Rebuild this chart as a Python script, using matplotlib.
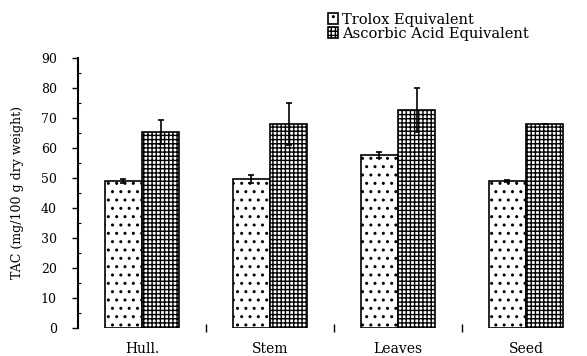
import matplotlib.pyplot as plt
import numpy as np
from matplotlib.ticker import MultipleLocator, FixedLocator

plt.rcParams["font.family"] = "DejaVu Serif"
plt.rcParams["hatch.linewidth"] = 1.0

# Capacidad antioxidante total por parte de la planta
partes = ["Hull.", "Stem", "Leaves", "Seed"]
trolox = [49.0, 49.7, 57.7, 49.0]
trolox_err = [0.7, 1.3, 1.0, 0.4]
ascorbico = [65.3, 68.0, 72.7, 68.0]
ascorbico_err = [4.0, 7.0, 7.3, 0.0]

fig = plt.figure(figsize=(5.87, 3.56), dpi=100)
ax = fig.add_axes([0.133, 0.079, 0.867, 0.758])

x = np.arange(len(partes))
ancho = 0.29

ax.bar(x - ancho / 2, trolox, ancho, color="white", edgecolor="black",
       linewidth=1.2, hatch="..", label="Trolox Equivalent",
       yerr=trolox_err, capsize=2.5,
       error_kw={"elinewidth": 1.2, "ecolor": "black", "capthick": 1.2})
ax.bar(x + ancho / 2, ascorbico, ancho, color="white", edgecolor="black",
       linewidth=1.2, hatch="++++", label="Ascorbic Acid Equivalent",
       yerr=ascorbico_err, capsize=2.5,
       error_kw={"elinewidth": 1.2, "ecolor": "black", "capthick": 1.2})

ax.set_xlim(-0.5, 3.477)
ax.set_ylim(0, 90)
ax.yaxis.set_major_locator(MultipleLocator(10))
ax.yaxis.set_minor_locator(MultipleLocator(5))
ax.tick_params(axis="y", which="major", direction="out", length=4.3,
               width=1, labelsize=9, pad=11)
ax.tick_params(axis="y", which="minor", direction="in", length=2, width=0.8)

# etiquetas en el centro del grupo, marcas pequenas entre grupos
ax.set_xticks(x)
ax.set_xticklabels(partes)
ax.xaxis.set_minor_locator(FixedLocator([0.5, 1.5, 2.5]))
ax.tick_params(axis="x", which="major", length=0, labelsize=10, pad=10)
ax.tick_params(axis="x", which="minor", direction="inout", length=6, width=1)

for lado in ["top", "right", "bottom"]:
    ax.spines[lado].set_visible(False)
ax.spines["left"].set_linewidth(1.5)

ax.set_ylabel("TAC (mg/100 g dry weight)", fontsize=9, labelpad=12)

ax.legend(loc="upper left", bbox_to_anchor=(0.479, 1.19), frameon=False,
          fontsize=10.5, handlelength=0.7, handleheight=0.7,
          handletextpad=0.3, labelspacing=0.0, borderaxespad=0)

fig.savefig("out.png", dpi=100)
